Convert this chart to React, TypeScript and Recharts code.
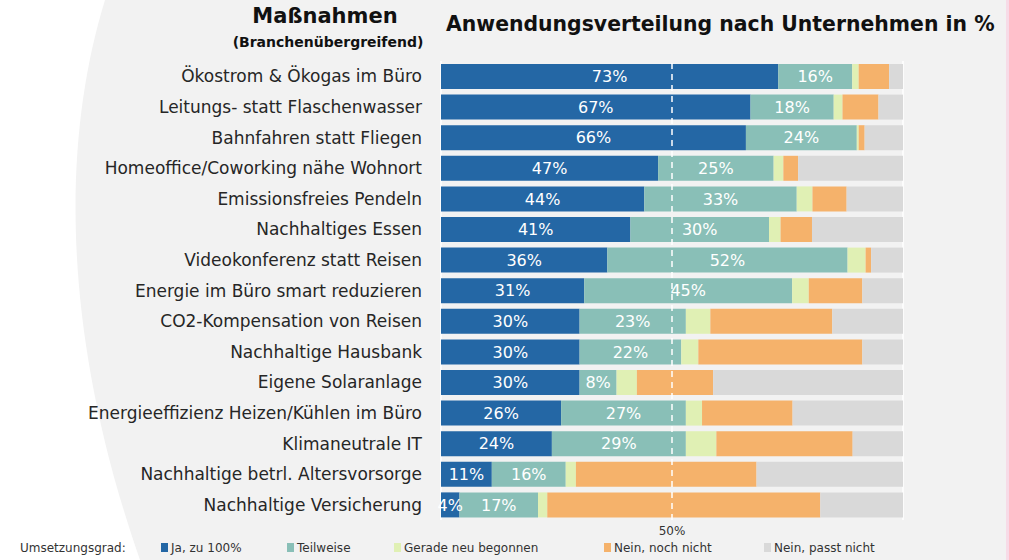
import React from 'react';
import { BarChart, Bar, XAxis, YAxis, CartesianGrid, ReferenceLine, Legend, LabelList } from 'recharts';

// Maßnahmen, top to bottom
const measures = [
    'Ökostrom & Ökogas im Büro',
    'Leitungs- statt Flaschenwasser',
    'Bahnfahren statt Fliegen',
    'Homeoffice/Coworking nähe Wohnort',
    'Emissionsfreies Pendeln',
    'Nachhaltiges Essen',
    'Videokonferenz statt Reisen',
    'Energie im Büro smart reduzieren',
    'CO2-Kompensation von Reisen',
    'Nachhaltige Hausbank',
    'Eigene Solaranlage ',
    'Energieeffizienz Heizen/Kühlen im Büro',
    'Klimaneutrale IT ',
    'Nachhaltige betrl. Altersvorsorge',
    'Nachhaltige Versicherung',
];

const seriesNames = ['Ja, zu 100%', 'Teilweise', 'Gerade neu begonnen', 'Nein, noch nicht', 'Nein, passt nicht'];

const ja100 = [73, 67, 66, 47, 44, 41, 36, 31, 30, 30, 30, 26, 24, 11, 4];
const teilweise = [16, 18, 24, 25, 33, 30, 52, 45, 23, 22, 8, 27, 29, 16, 17];
const neuBegonnen = [1.4, 1.9, 0.4, 2.1, 3.4, 2.5, 3.9, 3.6, 5.3, 3.7, 4.4, 3.5, 6.6, 2.2, 2.0];
const nochNicht = [6.6, 7.8, 1.3, 3.2, 7.4, 6.8, 1.2, 11.6, 26.4, 35.5, 16.5, 19.6, 29.5, 39.1, 59.1];
const passtNicht = [3.0, 5.3, 8.3, 22.7, 12.2, 19.7, 6.9, 8.8, 15.3, 8.8, 41.1, 23.9, 10.9, 31.7, 17.9];

const xTicks = [50];
const gridTicks = [20, 40, 60, 80, 100];

const data = measures.map((name, i) => ({
    name,
    ja: ja100[i],
    teil: teilweise[i],
    neu: neuBegonnen[i],
    noch: nochNicht[i],
    passt: passtNicht[i],
}));

const FONT = '"DejaVu Sans", sans-serif';
const legendX = [161, 287, 394, 604, 764];

const pct = (v: any) => `${Math.round(Number(v))}%`;

const LegendContent = (props: any) => {
    const { payload = [] } = props;
    const items = seriesNames.map((n) => payload.find((p: any) => p.value === n)).filter(Boolean);
    return (
        <div style={{ position: 'relative', height: 20, fontFamily: FONT, fontSize: 12, color: '#333' }}>
            <span style={{ position: 'absolute', left: 20, top: 2 }}>Umsetzungsgrad:</span>
            {items.map((p: any, i: number) => (
                <span key={p.value} style={{ position: 'absolute', left: legendX[i], top: 2, whiteSpace: 'nowrap' }}>
                    <span style={{ display: 'inline-block', width: 7, height: 9, background: p.color, marginRight: 3 }} />
                    {p.value}
                </span>
            ))}
        </div>
    );
};

const App: React.FC = () => {
    return (
        <div style={{ position: 'absolute', left: 0, top: 0, width: 1009, height: 560, background: '#f2f2f2', overflow: 'hidden' }}>
            <svg width={1009} height={560} style={{ position: 'absolute', left: 0, top: 0 }}>
                <path d="M0,0 L105,0 C62,140 60,330 140,560 L0,560 Z" fill="#ffffff" />
                <rect x={1006} y={0} width={3} height={560} fill="#f7dbe7" />
            </svg>
            <div style={{ position: 'absolute', left: 220, top: 4, width: 210, textAlign: 'center', fontFamily: FONT, fontWeight: 'bold', fontSize: 21, color: '#111' }}>
                Maßnahmen
            </div>
            <div style={{ position: 'absolute', left: 220, top: 34, width: 216, textAlign: 'center', fontFamily: FONT, fontWeight: 'bold', fontSize: 14, color: '#111' }}>
                (Branchenübergreifend)
            </div>
            <div style={{ position: 'absolute', left: 446, top: 12, fontFamily: FONT, fontWeight: 'bold', fontSize: 20.4, color: '#111', whiteSpace: 'nowrap' }}>
                Anwendungsverteilung nach Unternehmen in %
            </div>
            <div style={{ position: 'absolute', left: 0, top: 0 }}>
                <BarChart
                    width={1009}
                    height={560}
                    data={data}
                    layout="vertical"
                    barSize={25}
                    margin={{ top: 61, right: 106, left: 0, bottom: 0 }}
                >
                    <XAxis xAxisId="grid" type="number" domain={[0, 100]} ticks={gridTicks} hide />
                    <CartesianGrid xAxisId="grid" horizontal={false} stroke="#ffffff" strokeWidth={1.5} />
                    <XAxis
                        type="number"
                        domain={[0, 100]}
                        ticks={xTicks}
                        tickFormatter={(v) => `${v}%`}
                        axisLine={false}
                        tickLine={false}
                        tickSize={4}
                        height={20}
                        tick={{ fill: '#333', fontSize: 12, fontFamily: FONT }}
                    />
                    <YAxis
                        type="category"
                        dataKey="name"
                        width={441}
                        axisLine={false}
                        tickLine={false}
                        tickMargin={13}
                        interval={0}
                        tick={{ fill: '#262626', fontSize: 17, fontFamily: FONT }}
                    />
                    <Legend verticalAlign="bottom" height={20} content={<LegendContent />} wrapperStyle={{ left: 0, top: 539, width: 1009 }} />
                    <Bar dataKey="ja" name="Ja, zu 100%" stackId="a" fill="#2467a5" isAnimationActive={false}>
                        <LabelList dataKey="ja" position="center" formatter={pct} fill="#ffffff" fontSize={16} fontFamily={FONT} />
                    </Bar>
                    <Bar dataKey="teil" name="Teilweise" stackId="a" fill="#89bfb7" isAnimationActive={false}>
                        <LabelList dataKey="teil" position="center" formatter={pct} fill="#ffffff" fontSize={16} fontFamily={FONT} />
                    </Bar>
                    <Bar dataKey="neu" name="Gerade neu begonnen" stackId="a" fill="#e0f0b4" isAnimationActive={false} />
                    <Bar dataKey="noch" name="Nein, noch nicht" stackId="a" fill="#f5b26b" isAnimationActive={false} />
                    <Bar dataKey="passt" name="Nein, passt nicht" stackId="a" fill="#d9d9d9" isAnimationActive={false} />
                    <ReferenceLine x={50} stroke="#ffffff" strokeWidth={1.5} strokeDasharray="6 5" />
                </BarChart>
            </div>
        </div>
    );
};

export default App;
